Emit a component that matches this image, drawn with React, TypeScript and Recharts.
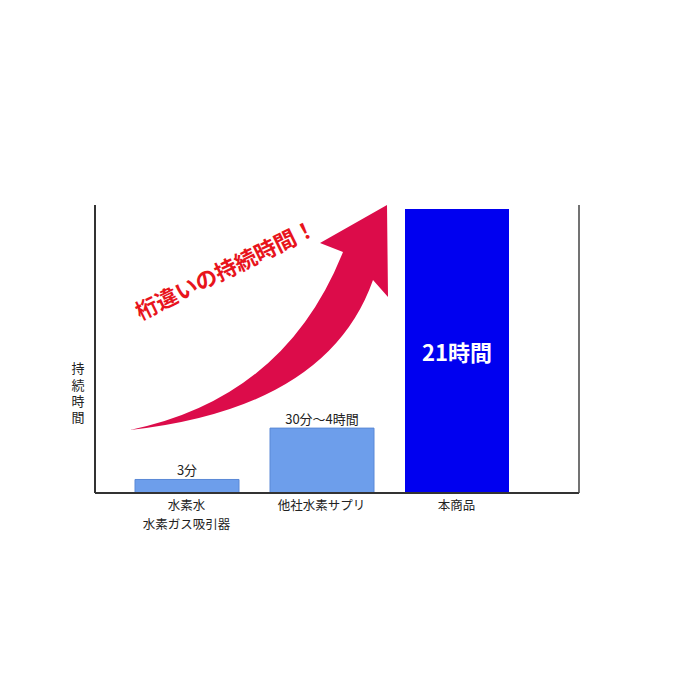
import { Bar, BarChart, Cell, LabelList, XAxis, YAxis } from 'recharts'

const categories = ['水素水\n水素ガス吸引器', '他社水素サプリ', '本商品']
// relative duration heights (本商品 = 21)
const durations = [1.0, 4.8, 21]
const valueLabels = ['3分', '30分～4時間', '21時間']
const barColors = ['#6d9eeb', '#6d9eeb', '#0000f0']
const yAxisTitle = '持続時間'
const headline = '桁違いの持続時間！'

const data = categories.map((name, i) => ({
  name,
  value: durations[i],
  label: valueLabels[i]
}))

const FONT = '"Noto Sans CJK JP", "Noto Sans", sans-serif'

const CategoryTick = ({ x, y, payload }: any) => {
  const lines = String(payload.value).split('\n')
  return (
    <g>
      {lines.map((line, i) => (
        <text
          key={i}
          x={x}
          y={Number(y) + 9 + i * 18.5}
          textAnchor="middle"
          fontFamily={FONT}
          fontSize={12.5}
          fill="#222"
        >
          {line}
        </text>
      ))}
    </g>
  )
}

const BarValueLabel = ({ x, y, width, height, value, index }: any) => {
  const cx = Number(x) + Number(width) / 2
  if (index === 2) {
    return (
      <text
        x={cx}
        y={Number(y) + Number(height) / 2}
        textAnchor="middle"
        dominantBaseline="central"
        fontFamily={FONT}
        fontSize={22}
        fontWeight={700}
        fill="#fff"
      >
        {value}
      </text>
    )
  }
  return (
    <text
      x={cx}
      y={Number(y) - 10}
      textAnchor="middle"
      dominantBaseline="central"
      fontFamily={FONT}
      fontSize={13}
      fill="#222"
    >
      {value}
    </text>
  )
}

const Overlay = () => (
  <svg
    width={700}
    height={700}
    style={{ position: 'absolute', left: 0, top: 0, pointerEvents: 'none' }}
  >
    <path
      d="M130,430 Q285,398 343,252 L320,243 L387,205 L388,297 L373,280 Q328,408 130,430 Z"
      fill="#dc0c4a"
    />
    <text
      x={225}
      y={268}
      textAnchor="middle"
      dominantBaseline="central"
      transform="rotate(-26 225 268)"
      fontFamily={FONT}
      fontSize={22}
      fontWeight={700}
      fill="#e8141c"
    >
      {headline}
    </text>
    <text
      x={78}
      y={362}
      fontFamily={FONT}
      fontSize={13}
      fill="#222"
      style={{ writingMode: 'vertical-rl', letterSpacing: 3.3 }}
    >
      {yAxisTitle}
    </text>
  </svg>
)

export default function App() {
  return (
    <div
      style={{
        position: 'absolute',
        left: 0,
        top: 0,
        width: 700,
        height: 700,
        background: '#fff'
      }}
    >
      <BarChart
        width={700}
        height={700}
        data={data}
        margin={{ top: 205, right: 120, bottom: 167, left: 94 }}
      >
        <XAxis
          dataKey="name"
          height={40}
          interval={0}
          tickLine={false}
          axisLine={{ stroke: '#333', strokeWidth: 2 }}
          padding={{ left: 24, right: 55 }}
          tick={<CategoryTick />}
        />
        <YAxis
          yAxisId="left"
          width={1}
          domain={[0, 21.3]}
          tick={false}
          tickLine={false}
          axisLine={{ stroke: '#333', strokeWidth: 2 }}
        />
        <YAxis
          yAxisId="right"
          orientation="right"
          width={1}
          domain={[0, 21.3]}
          tick={false}
          tickLine={false}
          axisLine={{ stroke: '#444', strokeWidth: 1.5 }}
        />
        <Bar yAxisId="left" dataKey="value" barSize={104} isAnimationActive={false}>
          {data.map((entry, i) => (
            <Cell
              key={entry.name}
              fill={barColors[i]}
              stroke={i === 2 ? 'none' : '#5a88d6'}
              strokeWidth={1}
            />
          ))}
          <LabelList dataKey="label" content={<BarValueLabel />} />
        </Bar>
      </BarChart>
      <Overlay />
    </div>
  )
}
